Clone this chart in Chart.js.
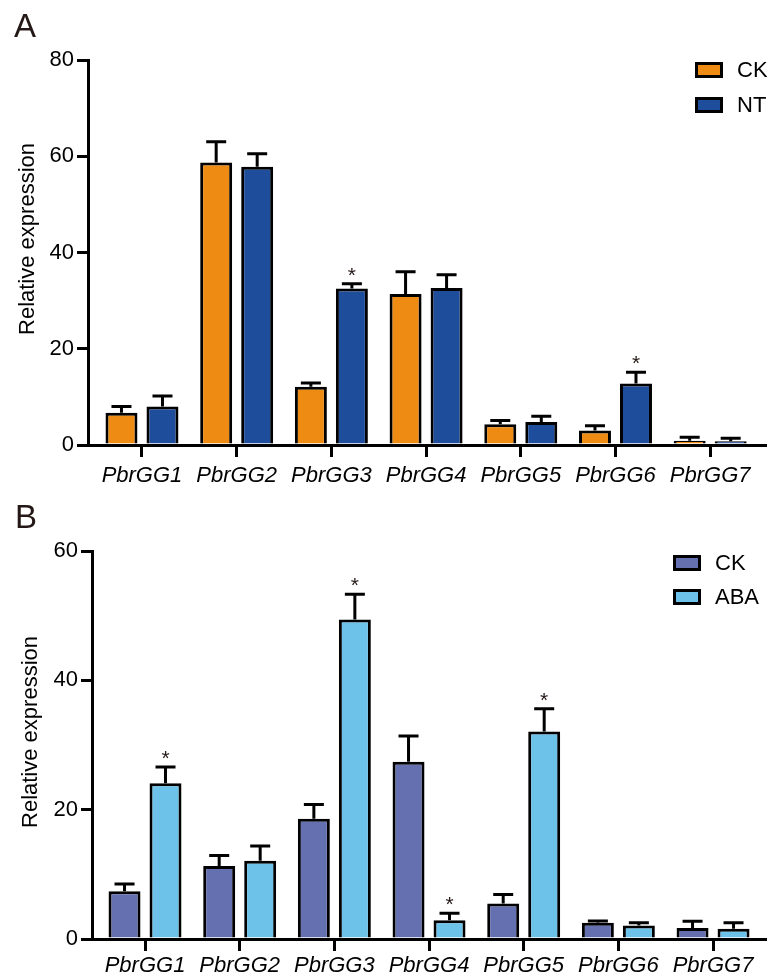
<!DOCTYPE html>
<html>
<head>
<meta charset="utf-8">
<script src="https://cdn.jsdelivr.net/npm/chart.js@4.4.0/dist/chart.umd.min.js"></script>
<style>
    body { margin: 0; width: 767px; height: 977px; overflow: hidden; background: #fff; position: relative; font-family: "Liberation Sans", Arial, sans-serif; }
    .panel { position: absolute; left: 0; }
    .tag { position: absolute; font-size: 33px; line-height: 1; color: #231815; }
</style>
</head>
<body>
<div class="panel" style="top:0"><canvas id="chartA" width="767" height="490"></canvas></div>
<div class="panel" style="top:490px"><canvas id="chartB" width="767" height="487"></canvas></div>
<div class="tag" style="left:14px;top:9px">A</div>
<div class="tag" style="left:15px;top:500px">B</div>
<script>
    const genes = ['PbrGG1', 'PbrGG2', 'PbrGG3', 'PbrGG4', 'PbrGG5', 'PbrGG6', 'PbrGG7'];

    // panel A: CK vs NT
    const ckA = [6.7, 58.7, 12.1, 31.4, 4.3, 3.0, 0.9];
    const ckAErr = [1.3, 4.3, 0.8, 4.6, 0.8, 1.0, 0.7];
    const ntA = [8.0, 57.8, 32.5, 32.6, 4.8, 12.8, 0.8];
    const ntAErr = [2.2, 2.7, 1.0, 2.8, 1.2, 2.3, 0.6];
    const ntAStar = [0, 0, 1, 0, 0, 1, 0];
    const yTicksA = [0, 20, 40, 60, 80];

    // panel B: CK vs ABA
    const ckB = [7.4, 11.3, 18.6, 27.4, 5.5, 2.5, 1.7];
    const ckBErr = [1.1, 1.6, 2.2, 4.0, 1.4, 0.3, 1.05];
    const abaB = [24.1, 12.1, 49.4, 2.9, 32.1, 2.1, 1.6];
    const abaBErr = [2.5, 2.3, 3.9, 1.1, 3.5, 0.4, 0.9];
    const abaBStar = [1, 0, 1, 1, 1, 0, 0];
    const yTicksB = [0, 20, 40, 60];

    const FONT = '"Liberation Sans", Arial, sans-serif';

    // one-sided error bars + significance stars
    const errorBars = {
        id: 'errorBars',
        afterDatasetsDraw(chart) {
            const ctx = chart.ctx;
            const yScale = chart.scales.y;
            ctx.save();
            chart.data.datasets.forEach((ds, di) => {
                const meta = chart.getDatasetMeta(di);
                meta.data.forEach((bar, i) => {
                    const top = yScale.getPixelForValue(ds.data[i].y + ds.errors[i]);
                    ctx.strokeStyle = '#000';
                    ctx.lineWidth = 3;
                    ctx.beginPath();
                    ctx.moveTo(bar.x, bar.y);
                    ctx.lineTo(bar.x, top);
                    ctx.moveTo(bar.x - 10, top);
                    ctx.lineTo(bar.x + 10, top);
                    ctx.stroke();
                    if (ds.stars && ds.stars[i]) {
                        ctx.fillStyle = '#231815';
                        ctx.font = '21px ' + FONT;
                        ctx.textAlign = 'center';
                        ctx.textBaseline = 'alphabetic';
                        ctx.fillText('*', bar.x, top - 2);
                    }
                });
            });
            ctx.restore();
        }
    };

    // legend with outlined boxes, top right
    const boxLegend = {
        id: 'boxLegend',
        afterDraw(chart, args, opts) {
            const ctx = chart.ctx;
            ctx.save();
            chart.data.datasets.forEach((ds, i) => {
                const by = opts.y + i * opts.gap;
                ctx.fillStyle = ds.backgroundColor;
                ctx.fillRect(opts.x, by, 28, 16);
                ctx.strokeStyle = '#000';
                ctx.lineWidth = 3;
                ctx.strokeRect(opts.x + 1.5, by + 1.5, 25, 13);
                ctx.fillStyle = '#000';
                ctx.font = '22px ' + FONT;
                ctx.textAlign = 'left';
                ctx.textBaseline = 'middle';
                ctx.fillText(ds.label, opts.textX, by + 9);
            });
            ctx.restore();
        }
    };

    // y title, a bit above the middle of the axis like the original
    const yTitle = {
        id: 'yTitle',
        afterDraw(chart, args, opts) {
            const ctx = chart.ctx;
            ctx.save();
            ctx.translate(opts.x, opts.y);
            ctx.rotate(-Math.PI / 2);
            ctx.fillStyle = '#000';
            ctx.font = '22px ' + FONT;
            ctx.textAlign = 'center';
            ctx.textBaseline = 'middle';
            ctx.fillText(opts.text, 0, 0);
            ctx.restore();
        }
    };

    function makeChart(canvasId, sets, cfg) {
        return new Chart(document.getElementById(canvasId), {
            type: 'bar',
            data: {
                datasets: sets.map(s => ({
                    label: s.label,
                    data: s.values.map((v, i) => ({ x: i, y: v })),
                    errors: s.errors,
                    stars: s.stars,
                    backgroundColor: s.color,
                    borderColor: '#000',
                    borderWidth: 3,
                    categoryPercentage: 0.866,
                    barPercentage: 0.78
                }))
            },
            options: {
                responsive: false,
                animation: false,
                layout: { padding: { top: cfg.top, left: 0, right: 0, bottom: 0 } },
                plugins: {
                    legend: { display: false },
                    tooltip: { enabled: false },
                    boxLegend: cfg.legend,
                    yTitle: cfg.title
                },
                scales: {
                    x: {
                        type: 'linear',
                        offset: false,
                        min: cfg.xMin,
                        max: cfg.xMax,
                        afterFit: s => { s.height = cfg.xHeight; },
                        afterBuildTicks: s => { s.ticks = genes.map((g, i) => ({ value: i })); },
                        grid: { offset: false, drawOnChartArea: false, drawTicks: true, tickLength: 12, lineWidth: 3, color: '#000' },
                        border: { color: '#000', width: 3 },
                        ticks: {
                            autoSkip: false,
                            maxRotation: 0,
                            padding: cfg.xPad,
                            color: '#000',
                            font: { family: FONT, size: 22, style: 'italic' },
                            callback: v => genes[v]
                        }
                    },
                    y: {
                        min: 0,
                        max: cfg.yMax,
                        afterFit: s => { s.width = cfg.yWidth; },
                        afterBuildTicks: s => { s.ticks = cfg.yTicks.map(v => ({ value: v })); },
                        grid: { drawOnChartArea: false, drawTicks: true, tickLength: 11, lineWidth: 3, color: '#000' },
                        border: { color: '#000', width: 3 },
                        ticks: { padding: 3, color: '#000', font: { family: FONT, size: 22 } }
                    }
                }
            },
            plugins: [errorBars, boxLegend, yTitle]
        });
    }

    makeChart('chartA', [
        { label: 'CK', values: ckA, errors: ckAErr, stars: null, color: '#EE8B12' },
        { label: 'NT', values: ntA, errors: ntAErr, stars: ntAStar, color: '#1E4D9B' }
    ], {
        top: 60, xHeight: 45, xPad: 6, yWidth: 88, yMax: 80, yTicks: yTicksA,
        xMin: -0.57, xMax: 6.60,
        title: { text: 'Relative expression', x: 28, y: 239 },
        legend: { x: 695, y: 62, gap: 35, textX: 737 }
    });

    makeChart('chartB', [
        { label: 'CK', values: ckB, errors: ckBErr, stars: null, color: '#6470B0' },
        { label: 'ABA', values: abaB, errors: abaBErr, stars: abaBStar, color: '#6CC2E8' }
    ], {
        top: 61, xHeight: 38, xPad: 2, yWidth: 92, yMax: 60, yTicks: yTicksB,
        xMin: -0.56, xMax: 6.57,
        title: { text: 'Relative expression', x: 31, y: 242 },
        legend: { x: 673, y: 65, gap: 34, textX: 715 }
    });
</script>
</body>
</html>
